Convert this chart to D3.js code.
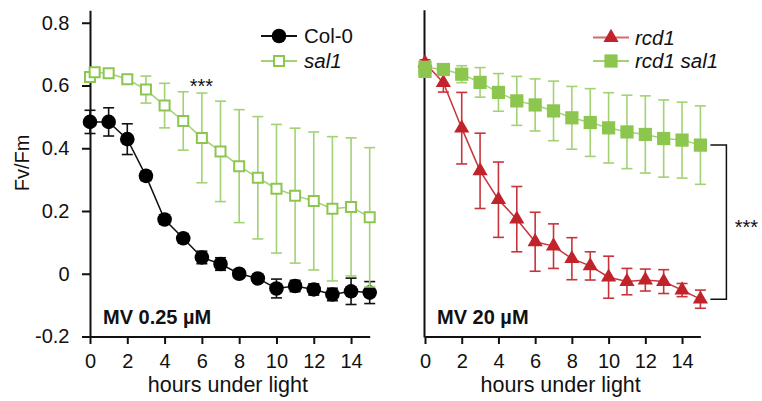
<!DOCTYPE html>
<html>
<head>
<meta charset="utf-8">
<script src="https://cdnjs.cloudflare.com/ajax/libs/d3/7.8.5/d3.min.js"></script>
<style>
  body { margin: 0; background: #fff; }
  text { font-family: "Liberation Sans", Arial, sans-serif; fill: #111; }
</style>
</head>
<body>
<div id="chart"></div>
<script>
// hours under light (x values)
var hours = [0, 1, 2, 3, 4, 5, 6, 7, 8, 9, 10, 11, 12, 13, 14, 15];
// green series have a second reading at the start
var hoursG = [0, 0.25, 1, 2, 3, 4, 5, 6, 7, 8, 9, 10, 11, 12, 13, 14, 15];

// left panel, MV 0.25 uM
var col0    = [0.484, 0.484, 0.429, 0.312, 0.173, 0.113, 0.052, 0.031, 0.0, -0.015, -0.047, -0.039, -0.05, -0.066, -0.056, -0.06];
var col0Err = [0.037, 0.045, 0.049, 0.015, 0.015, 0.015, 0.02, 0.02, 0.012, 0.012, 0.03, 0.018, 0.018, 0.02, 0.042, 0.035];
var sal1    = [0.627, 0.642, 0.639, 0.62, 0.587, 0.536, 0.487, 0.433, 0.39, 0.343, 0.306, 0.271, 0.249, 0.232, 0.207, 0.213, 0.18];
var sal1Err = [0.01, 0.01, 0.01, 0.012, 0.043, 0.071, 0.093, 0.143, 0.16, 0.18, 0.195, 0.205, 0.215, 0.22, 0.23, 0.22, 0.222];

// right panel, MV 20 uM
var rcd1       = [0.672, 0.609, 0.464, 0.328, 0.236, 0.174, 0.102, 0.088, 0.048, 0.025, -0.011, -0.025, -0.02, -0.025, -0.052, -0.081];
var rcd1Err    = [0.01, 0.03, 0.114, 0.12, 0.12, 0.104, 0.094, 0.071, 0.067, 0.045, 0.067, 0.042, 0.035, 0.038, 0.021, 0.029];
var rcd1sal1   = [0.645, 0.658, 0.651, 0.636, 0.61, 0.578, 0.551, 0.538, 0.519, 0.497, 0.482, 0.465, 0.452, 0.444, 0.431, 0.426, 0.41];
var rcd1sal1Err= [0.01, 0.01, 0.01, 0.027, 0.047, 0.06, 0.078, 0.083, 0.095, 0.1, 0.108, 0.112, 0.117, 0.123, 0.123, 0.121, 0.125];

var yTicks = [-0.2, 0, 0.2, 0.4, 0.6, 0.8];
var xTicks = [0, 2, 4, 6, 8, 10, 12, 14];

var green = "#8dc64f", greenLine = "#a2d273", red = "#c1232b", redLine = "#c8343b";

var svg = d3.select("#chart").append("svg")
    .attr("width", 762).attr("height", 401);

var y = d3.scaleLinear().domain([-0.2, 0.84]).range([336.5, 10.2]);
var xL = d3.scaleLinear().domain([0, 15]).range([90, 369.7]);
var xR = d3.scaleLinear().domain([0, 15]).range([425, 700.4]);

function xAxis(x, title) {
    var g = svg.append("g")
        .attr("transform", "translate(0," + y(-0.2) + ")")
        .call(d3.axisBottom(x).tickValues(xTicks).tickSize(7.5).tickPadding(10).tickSizeOuter(0));
    g.select(".domain").attr("stroke-width", 2).attr("stroke", "#111");
    g.selectAll(".tick line").attr("stroke-width", 2).attr("stroke", "#111");
    g.selectAll(".tick text").style("font-size", "20px").attr("fill", "#111")
        .style("font-family", "Liberation Sans, Arial, sans-serif");
    svg.append("text")
        .attr("x", (x.range()[0] + x.range()[1]) / 2 - 2).attr("y", 392)
        .attr("text-anchor", "middle").style("font-size", "21.5px")
        .text(title);
}

function yLine(x0) {
    svg.append("line")
        .attr("x1", x0).attr("x2", x0)
        .attr("y1", y.range()[0] + 1).attr("y2", y.range()[1])
        .attr("stroke", "#111").attr("stroke-width", 2);
}

// left y axis with ticks
var ga = svg.append("g").attr("transform", "translate(" + xL(0) + ",0)")
    .call(d3.axisLeft(y).tickValues(yTicks).tickSize(8).tickPadding(12.5).tickSizeOuter(0)
        .tickFormat(function (d) { return d === 0 ? "0" : d.toFixed(1); }));
ga.select(".domain").attr("stroke-width", 2).attr("stroke", "#111");
ga.selectAll(".tick line").attr("stroke-width", 2).attr("stroke", "#111");
ga.selectAll(".tick text").style("font-size", "20px").attr("fill", "#111")
    .style("font-family", "Liberation Sans, Arial, sans-serif");

yLine(xR(0) - 0.5);
xAxis(xL, "hours under light");
xAxis(xR, "hours under light");

svg.append("text")
    .attr("transform", "translate(29,163) rotate(-90)")
    .attr("text-anchor", "middle").style("font-size", "20px")
    .text("Fv/Fm");

// error bars, line, markers
function series(x, xs, vals, errs, lineColor, errColor, sym, size, fill, stroke, sw) {
    var pts = xs.map(function (h, i) { return { h: h, v: vals[i], e: errs[i] }; });
    var g = svg.append("g");
    var eb = g.selectAll(".eb").data(pts).enter().append("g")
        .attr("stroke", errColor).attr("stroke-width", 1.6);
    eb.append("line")
        .attr("x1", function (d) { return x(d.h); }).attr("x2", function (d) { return x(d.h); })
        .attr("y1", function (d) { return y(d.v - d.e); }).attr("y2", function (d) { return y(d.v + d.e); });
    [-1, 1].forEach(function (s) {
        eb.append("line")
            .attr("x1", function (d) { return x(d.h) - 5.5; }).attr("x2", function (d) { return x(d.h) + 5.5; })
            .attr("y1", function (d) { return y(d.v + s * d.e); }).attr("y2", function (d) { return y(d.v + s * d.e); });
    });
    g.append("path").datum(pts)
        .attr("fill", "none").attr("stroke", lineColor).attr("stroke-width", 1.5)
        .attr("d", d3.line().x(function (d) { return x(d.h); }).y(function (d) { return y(d.v); }));
    g.selectAll(".m").data(pts).enter().append("path")
        .attr("transform", function (d) { return "translate(" + x(d.h) + "," + y(d.v) + ")"; })
        .attr("d", d3.symbol(sym, size))
        .attr("fill", fill).attr("stroke", stroke).attr("stroke-width", sw);
}

series(xL, hours, col0, col0Err, "#111", "#111", d3.symbolCircle, Math.PI * 7.3 * 7.3, "#000", "none", 0);
series(xL, hoursG, sal1, sal1Err, greenLine, greenLine, d3.symbolSquare, 100, "#fff", green, 2);
series(xR, hours, rcd1, rcd1Err, redLine, redLine, d3.symbolTriangle, 100, red, "none", 0);
series(xR, [0, 0].concat(hours.slice(1)), rcd1sal1, rcd1sal1Err, greenLine, greenLine, d3.symbolSquare, 175, green, "none", 0);

// legends
function legend(x0, x1, xt, yy, lineColor, sym, size, fill, stroke, sw, label) {
    svg.append("line").attr("x1", x0).attr("x2", x1).attr("y1", yy).attr("y2", yy)
        .attr("stroke", lineColor).attr("stroke-width", 1.8);
    svg.append("path").attr("transform", "translate(" + (x0 + x1) / 2 + "," + yy + ")")
        .attr("d", d3.symbol(sym, size)).attr("fill", fill).attr("stroke", stroke).attr("stroke-width", sw);
    var t = svg.append("text").attr("x", xt).attr("y", yy).attr("dy", "0.36em")
        .style("font-size", "20.5px");
    label.forEach(function (p) {
        t.append("tspan").style("font-style", p[1] ? "italic" : "normal").text(p[0]);
    });
}
legend(261, 297, 304, 36, "#111", d3.symbolCircle, Math.PI * 7.3 * 7.3, "#000", "none", 0, [["Col-0", false]]);
legend(261, 297, 304, 61, greenLine, d3.symbolSquare, 100, "#fff", green, 2, [["sal1", true]]);
legend(593, 629, 635, 37.5, "#d9686e", d3.symbolTriangle, 100, red, "none", 0, [["rcd1", true]]);
legend(593, 629, 635, 61, greenLine, d3.symbolSquare, 175, green, "none", 0, [["rcd1 sal1", true]]);

// panel labels
svg.append("text").attr("x", 103).attr("y", 324).style("font-size", "20px").style("font-weight", "bold")
    .text("MV 0.25 \u00b5M");
svg.append("text").attr("x", 437).attr("y", 324).style("font-size", "20px").style("font-weight", "bold")
    .text("MV 20 \u00b5M");

// significance marks
svg.append("text").attr("x", xL(6) - 0.5).attr("y", 93).attr("text-anchor", "middle")
    .style("font-size", "20px").text("***");
var bx = xR(15);
var yTop = y(rcd1sal1[rcd1sal1.length - 1]), yBot = y(rcd1[rcd1.length - 1]);
svg.append("path")
    .attr("d", "M" + (bx + 10) + "," + yTop + "H" + (bx + 26) + "V" + yBot + "H" + (bx + 10))
    .attr("fill", "none").attr("stroke", "#111").attr("stroke-width", 1.5);
svg.append("text").attr("x", bx + 46).attr("y", 234).attr("text-anchor", "middle")
    .style("font-size", "20px").text("***");
</script>
</body>
</html>
